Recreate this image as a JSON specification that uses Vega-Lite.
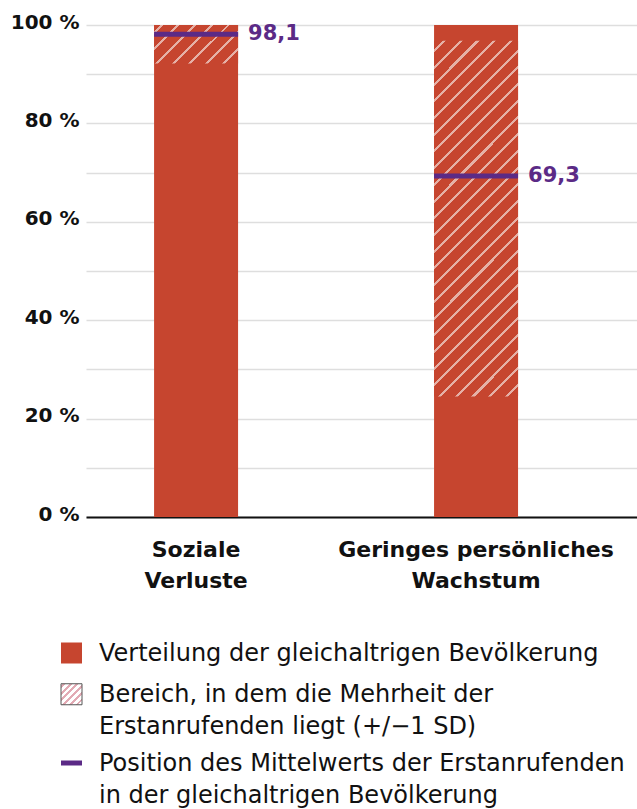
{
  "$schema": "https://vega.github.io/schema/vega-lite/v6.json",
  "padding": {"left": 10, "top": 12, "right": 0, "bottom": 0},
  "spacing": 51,
  "config": {
    "view": {"stroke": null},
    "font": "DejaVu Sans",
    "locale": {"number": {"decimal": ",", "thousands": ".", "grouping": [3], "currency": ["", " €"]}}
  },
  "vconcat": [
    {
      "width": 551,
      "height": 492,
      "data": {"values": [
        {"kategorie": "Soziale Verluste", "gesamt": 100, "sd_unten": 92.2, "sd_oben": 100, "mittelwert": 98.1},
        {"kategorie": "Geringes persönliches Wachstum", "gesamt": 100, "sd_unten": 24.5, "sd_oben": 96.8, "mittelwert": 69.3}
      ]},
      "encoding": {
        "x": {
          "field": "kategorie", "type": "nominal", "sort": null,
          "scale": {"paddingInner": 0.7, "paddingOuter": 0.334, "align": 0.364},
          "axis": {
            "title": null, "labelAngle": 0, "labelFontSize": 22, "labelFontWeight": "bold",
            "labelColor": "#111111", "labelPadding": 22, "labelLineHeight": 31, "labelLimit": 0,
            "labelExpr": "datum.label == 'Soziale Verluste' ? ['Soziale', 'Verluste'] : ['Geringes persönliches', 'Wachstum']",
            "ticks": false, "tickSize": 0, "domainColor": "#111111", "domainWidth": 2, "grid": false
          }
        }
      },
      "layer": [
        {
          "mark": {"type": "bar", "color": "#c6452f"},
          "encoding": {
            "y": {
              "field": "gesamt", "type": "quantitative", "scale": {"domain": [0, 100]},
              "axis": {
                "title": null, "values": [0, 10, 20, 30, 40, 50, 60, 70, 80, 90, 100],
                "labelExpr": "datum.value % 20 == 0 ? datum.value + ' %' : ''",
                "labelFontSize": 20, "labelFontWeight": "bold", "labelColor": "#111111",
                "labelPadding": 7, "labelOffset": -3, "labelFlush": false, "labelOverlap": false,
                "ticks": false, "tickSize": 0, "domain": false, "grid": true, "gridColor": "#dedede", "gridWidth": 1.5
              }
            }
          }
        },
        {
          "transform": [{"filter": "datum.kategorie == 'Soziale Verluste'"}],
          "mark": {"type": "bar", "fill": {
            "gradient": "linear", "x1": 0, "y1": 0, "x2": 1.205, "y2": 0.551,
            "stops": [
              {"offset": 0, "color": "#c6452f"},
              {"offset": 0.05, "color": "#c6452f"}, {"offset": 0.05, "color": "#e5b0a6"}, {"offset": 0.073, "color": "#e5b0a6"}, {"offset": 0.073, "color": "#c6452f"},
              {"offset": 0.186, "color": "#c6452f"}, {"offset": 0.186, "color": "#e5b0a6"}, {"offset": 0.209, "color": "#e5b0a6"}, {"offset": 0.209, "color": "#c6452f"},
              {"offset": 0.323, "color": "#c6452f"}, {"offset": 0.323, "color": "#e5b0a6"}, {"offset": 0.346, "color": "#e5b0a6"}, {"offset": 0.346, "color": "#c6452f"},
              {"offset": 0.459, "color": "#c6452f"}, {"offset": 0.459, "color": "#e5b0a6"}, {"offset": 0.482, "color": "#e5b0a6"}, {"offset": 0.482, "color": "#c6452f"},
              {"offset": 0.596, "color": "#c6452f"}, {"offset": 0.596, "color": "#e5b0a6"}, {"offset": 0.619, "color": "#e5b0a6"}, {"offset": 0.619, "color": "#c6452f"},
              {"offset": 0.732, "color": "#c6452f"}, {"offset": 0.732, "color": "#e5b0a6"}, {"offset": 0.755, "color": "#e5b0a6"}, {"offset": 0.755, "color": "#c6452f"},
              {"offset": 0.868, "color": "#c6452f"}, {"offset": 0.868, "color": "#e5b0a6"}, {"offset": 0.891, "color": "#e5b0a6"}, {"offset": 0.891, "color": "#c6452f"},
              {"offset": 1, "color": "#c6452f"}
            ]
          }},
          "encoding": {
            "y": {"field": "sd_unten", "type": "quantitative", "axis": {"title": null}},
            "y2": {"field": "sd_oben"}
          }
        },
        {
          "transform": [{"filter": "datum.kategorie == 'Geringes persönliches Wachstum'"}],
          "mark": {"type": "bar", "fill": {
            "gradient": "linear", "x1": 0, "y1": 0, "x2": 0.277, "y2": 1.171,
            "stops": [
              {"offset": 0, "color": "#c6452f"},
              {"offset": 0.020, "color": "#c6452f"}, {"offset": 0.020, "color": "#e5b0a6"}, {"offset": 0.027, "color": "#e5b0a6"}, {"offset": 0.027, "color": "#c6452f"},
              {"offset": 0.058, "color": "#c6452f"}, {"offset": 0.058, "color": "#e5b0a6"}, {"offset": 0.065, "color": "#e5b0a6"}, {"offset": 0.065, "color": "#c6452f"},
              {"offset": 0.096, "color": "#c6452f"}, {"offset": 0.096, "color": "#e5b0a6"}, {"offset": 0.103, "color": "#e5b0a6"}, {"offset": 0.103, "color": "#c6452f"},
              {"offset": 0.134, "color": "#c6452f"}, {"offset": 0.134, "color": "#e5b0a6"}, {"offset": 0.141, "color": "#e5b0a6"}, {"offset": 0.141, "color": "#c6452f"},
              {"offset": 0.172, "color": "#c6452f"}, {"offset": 0.172, "color": "#e5b0a6"}, {"offset": 0.179, "color": "#e5b0a6"}, {"offset": 0.179, "color": "#c6452f"},
              {"offset": 0.210, "color": "#c6452f"}, {"offset": 0.210, "color": "#e5b0a6"}, {"offset": 0.217, "color": "#e5b0a6"}, {"offset": 0.217, "color": "#c6452f"},
              {"offset": 0.248, "color": "#c6452f"}, {"offset": 0.248, "color": "#e5b0a6"}, {"offset": 0.255, "color": "#e5b0a6"}, {"offset": 0.255, "color": "#c6452f"},
              {"offset": 0.286, "color": "#c6452f"}, {"offset": 0.286, "color": "#e5b0a6"}, {"offset": 0.293, "color": "#e5b0a6"}, {"offset": 0.293, "color": "#c6452f"},
              {"offset": 0.324, "color": "#c6452f"}, {"offset": 0.324, "color": "#e5b0a6"}, {"offset": 0.331, "color": "#e5b0a6"}, {"offset": 0.331, "color": "#c6452f"},
              {"offset": 0.362, "color": "#c6452f"}, {"offset": 0.362, "color": "#e5b0a6"}, {"offset": 0.369, "color": "#e5b0a6"}, {"offset": 0.369, "color": "#c6452f"},
              {"offset": 0.400, "color": "#c6452f"}, {"offset": 0.400, "color": "#e5b0a6"}, {"offset": 0.407, "color": "#e5b0a6"}, {"offset": 0.407, "color": "#c6452f"},
              {"offset": 0.438, "color": "#c6452f"}, {"offset": 0.438, "color": "#e5b0a6"}, {"offset": 0.445, "color": "#e5b0a6"}, {"offset": 0.445, "color": "#c6452f"},
              {"offset": 0.476, "color": "#c6452f"}, {"offset": 0.476, "color": "#e5b0a6"}, {"offset": 0.483, "color": "#e5b0a6"}, {"offset": 0.483, "color": "#c6452f"},
              {"offset": 0.514, "color": "#c6452f"}, {"offset": 0.514, "color": "#e5b0a6"}, {"offset": 0.521, "color": "#e5b0a6"}, {"offset": 0.521, "color": "#c6452f"},
              {"offset": 0.552, "color": "#c6452f"}, {"offset": 0.552, "color": "#e5b0a6"}, {"offset": 0.559, "color": "#e5b0a6"}, {"offset": 0.559, "color": "#c6452f"},
              {"offset": 0.590, "color": "#c6452f"}, {"offset": 0.590, "color": "#e5b0a6"}, {"offset": 0.597, "color": "#e5b0a6"}, {"offset": 0.597, "color": "#c6452f"},
              {"offset": 0.628, "color": "#c6452f"}, {"offset": 0.628, "color": "#e5b0a6"}, {"offset": 0.635, "color": "#e5b0a6"}, {"offset": 0.635, "color": "#c6452f"},
              {"offset": 0.666, "color": "#c6452f"}, {"offset": 0.666, "color": "#e5b0a6"}, {"offset": 0.673, "color": "#e5b0a6"}, {"offset": 0.673, "color": "#c6452f"},
              {"offset": 0.704, "color": "#c6452f"}, {"offset": 0.704, "color": "#e5b0a6"}, {"offset": 0.711, "color": "#e5b0a6"}, {"offset": 0.711, "color": "#c6452f"},
              {"offset": 0.742, "color": "#c6452f"}, {"offset": 0.742, "color": "#e5b0a6"}, {"offset": 0.749, "color": "#e5b0a6"}, {"offset": 0.749, "color": "#c6452f"},
              {"offset": 0.780, "color": "#c6452f"}, {"offset": 0.780, "color": "#e5b0a6"}, {"offset": 0.787, "color": "#e5b0a6"}, {"offset": 0.787, "color": "#c6452f"},
              {"offset": 0.818, "color": "#c6452f"}, {"offset": 0.818, "color": "#e5b0a6"}, {"offset": 0.825, "color": "#e5b0a6"}, {"offset": 0.825, "color": "#c6452f"},
              {"offset": 0.856, "color": "#c6452f"}, {"offset": 0.856, "color": "#e5b0a6"}, {"offset": 0.863, "color": "#e5b0a6"}, {"offset": 0.863, "color": "#c6452f"},
              {"offset": 0.894, "color": "#c6452f"}, {"offset": 0.894, "color": "#e5b0a6"}, {"offset": 0.901, "color": "#e5b0a6"}, {"offset": 0.901, "color": "#c6452f"},
              {"offset": 0.932, "color": "#c6452f"}, {"offset": 0.932, "color": "#e5b0a6"}, {"offset": 0.939, "color": "#e5b0a6"}, {"offset": 0.939, "color": "#c6452f"},
              {"offset": 0.970, "color": "#c6452f"}, {"offset": 0.970, "color": "#e5b0a6"}, {"offset": 0.977, "color": "#e5b0a6"}, {"offset": 0.977, "color": "#c6452f"},
              {"offset": 1, "color": "#c6452f"}
            ]
          }},
          "encoding": {
            "y": {"field": "sd_unten", "type": "quantitative", "axis": {"title": null}},
            "y2": {"field": "sd_oben"}
          }
        },
        {
          "mark": {"type": "tick", "thickness": 5, "size": 84, "color": "#5b2a86", "opacity": 1},
          "encoding": {
            "y": {"field": "mittelwert", "type": "quantitative", "axis": {"title": null}}
          }
        },
        {
          "mark": {"type": "text", "align": "left", "baseline": "middle", "dx": 52, "fontSize": 21, "fontWeight": "bold", "color": "#5b2a86"},
          "encoding": {
            "y": {"field": "mittelwert", "type": "quantitative", "axis": {"title": null}},
            "text": {"field": "mittelwert", "type": "quantitative", "format": ".1f"}
          }
        }
      ]
    },
    {
      "width": 551,
      "height": 110,
      "data": {"values": [
        {"eintrag": "verteilung", "text": "Verteilung der gleichaltrigen Bevölkerung"},
        {"eintrag": "bereich", "text": "Bereich, in dem die Mehrheit der\nErstanrufenden liegt (+/−1 SD)"},
        {"eintrag": "mittelwert", "text": "Position des Mittelwerts der Erstanrufenden\nin der gleichaltrigen Bevölkerung"}
      ]},
      "encoding": {
        "y": {
          "field": "eintrag", "type": "nominal",
          "scale": {"type": "point", "padding": 0, "domain": ["verteilung", "s1", "s2", "bereich", "s3", "s4", "s5", "s6", "mittelwert"]},
          "axis": null
        }
      },
      "layer": [
        {
          "mark": {"type": "text", "align": "left", "baseline": "top", "dy": -11, "fontSize": 24, "lineHeight": 31.5, "lineBreak": "\n", "color": "#111111"},
          "encoding": {
            "x": {"datum": "label", "type": "nominal", "scale": {"type": "point", "padding": 0, "domain": ["symbol", "label"], "range": [-14.5, 13]}, "axis": null},
            "text": {"field": "text"}
          }
        },
        {
          "transform": [{"filter": "datum.eintrag == 'verteilung'"}],
          "mark": {"type": "point", "shape": "square", "size": 441, "filled": true, "fill": "#c6452f", "strokeWidth": 0, "opacity": 1},
          "encoding": {
            "x": {"datum": "symbol", "type": "nominal", "scale": {"type": "point", "padding": 0, "domain": ["symbol", "label"], "range": [-14.5, 13]}, "axis": null}
          }
        },
        {
          "transform": [{"filter": "datum.eintrag == 'bereich'"}],
          "mark": {"type": "point", "shape": "square", "size": 441, "filled": true, "stroke": "#555555", "strokeWidth": 1, "opacity": 1, "fill": {
            "gradient": "linear", "x1": 0, "y1": 0, "x2": 1, "y2": 1,
            "stops": [
              {"offset": 0, "color": "#ffffff"},
              {"offset": 0.04, "color": "#ffffff"}, {"offset": 0.04, "color": "#e2aab4"}, {"offset": 0.11, "color": "#e2aab4"}, {"offset": 0.11, "color": "#ffffff"},
              {"offset": 0.20, "color": "#ffffff"}, {"offset": 0.20, "color": "#e2aab4"}, {"offset": 0.27, "color": "#e2aab4"}, {"offset": 0.27, "color": "#ffffff"},
              {"offset": 0.36, "color": "#ffffff"}, {"offset": 0.36, "color": "#e2aab4"}, {"offset": 0.43, "color": "#e2aab4"}, {"offset": 0.43, "color": "#ffffff"},
              {"offset": 0.52, "color": "#ffffff"}, {"offset": 0.52, "color": "#e2aab4"}, {"offset": 0.59, "color": "#e2aab4"}, {"offset": 0.59, "color": "#ffffff"},
              {"offset": 0.68, "color": "#ffffff"}, {"offset": 0.68, "color": "#e2aab4"}, {"offset": 0.75, "color": "#e2aab4"}, {"offset": 0.75, "color": "#ffffff"},
              {"offset": 0.84, "color": "#ffffff"}, {"offset": 0.84, "color": "#e2aab4"}, {"offset": 0.91, "color": "#e2aab4"}, {"offset": 0.91, "color": "#ffffff"},
              {"offset": 1, "color": "#ffffff"}
            ]
          }},
          "encoding": {
            "x": {"datum": "symbol", "type": "nominal", "scale": {"type": "point", "padding": 0, "domain": ["symbol", "label"], "range": [-14.5, 13]}, "axis": null}
          }
        },
        {
          "transform": [{"filter": "datum.eintrag == 'mittelwert'"}],
          "mark": {"type": "point", "shape": "stroke", "size": 441, "filled": false, "stroke": "#5b2a86", "strokeWidth": 5, "opacity": 1},
          "encoding": {
            "x": {"datum": "symbol", "type": "nominal", "scale": {"type": "point", "padding": 0, "domain": ["symbol", "label"], "range": [-14.5, 13]}, "axis": null}
          }
        }
      ]
    }
  ]
}
